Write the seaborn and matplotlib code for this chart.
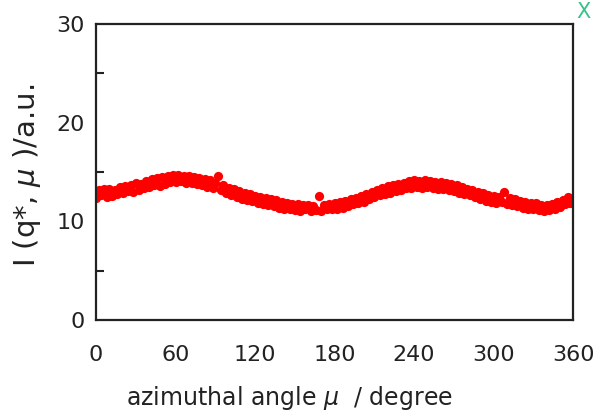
import numpy as np
import pandas as pd
import seaborn as sns
import matplotlib
matplotlib.use("Agg")
import matplotlib.pyplot as plt

angle_deg = list(range(0, 361, 2))
intensity = [
    12.4, 13.2, 12.7, 13.3, 12.5,
    13.3, 12.6, 13.2, 12.8, 13.5,
    12.9, 13.6, 13.1, 13.7, 13.0,
    13.9, 13.2, 13.8, 13.4, 14.1,
    13.5, 14.3, 13.7, 14.4, 13.6,
    14.5, 13.8, 14.6, 14.0, 14.7,
    14.0, 14.7, 14.1, 14.6, 13.9,
    14.6, 13.9, 14.5, 13.8, 14.4,
    13.7, 14.3, 13.5, 14.2, 13.4,
    13.9, 14.6, 13.2, 13.7, 12.9,
    13.4, 12.7, 13.3, 12.5, 13.1,
    12.3, 12.9, 12.2, 12.8, 12.1,
    12.6, 11.9, 12.5, 11.8, 12.4,
    11.7, 12.3, 11.6, 12.2, 11.4,
    12.0, 11.3, 11.9, 11.2, 11.8,
    11.1, 11.8, 11.0, 11.7, 11.2,
    11.7, 11.0, 11.6, 11.1, 12.6,
    11.0, 11.7, 11.2, 11.8, 11.3,
    11.9, 11.3, 12.0, 11.4, 12.1,
    11.6, 12.3, 11.8, 12.4, 11.9,
    12.6, 12.0, 12.8, 12.3, 13.0,
    12.5, 13.2, 12.7, 13.4, 12.8,
    13.6, 12.9, 13.7, 13.1, 13.8,
    13.2, 13.9, 13.4, 14.1, 13.4,
    14.2, 13.5, 14.1, 13.4, 14.2,
    13.5, 14.1, 13.4, 14.0, 13.3,
    14.0, 13.3, 13.9, 13.2, 13.8,
    13.1, 13.7, 12.9, 13.5, 12.8,
    13.3, 12.7, 13.2, 12.5, 13.0,
    12.3, 12.9, 12.1, 12.7, 12.0,
    12.6, 11.9, 12.5, 12.0, 13.0,
    11.8, 12.4, 11.7, 12.3, 11.6,
    12.1, 11.4, 12.0, 11.3, 11.9,
    11.3, 11.9, 11.1, 11.7, 11.0,
    11.7, 11.1, 11.8, 11.3, 12.0,
    11.5, 12.2, 11.8, 12.5, 11.9,
    12.4,
]
x_ticks = [0, 60, 120, 180, 240, 300, 360]
y_ticks = [0, 10, 20, 30]

df = pd.DataFrame({"angle": angle_deg, "I": intensity})

sns.set_theme(style="white")
plt.rcParams["font.family"] = ["DejaVu Sans"]
plt.rcParams["mathtext.fontset"] = "dejavusans"

fig = plt.figure(figsize=(5.97, 4.11), dpi=100)
ax = fig.add_axes([0.161, 0.2214, 0.799, 0.7202])
sns.scatterplot(data=df, x="angle", y="I", ax=ax, color="#ff0000",
                s=44, marker="o", linewidth=0, legend=False)

ax.set_xlim(0, 360)
ax.set_ylim(0, 30)
ax.set_xticks(x_ticks)
ax.set_yticks(y_ticks)
ax.set_yticks([5, 15, 25], minor=True)
ax.tick_params(axis="both", which="both", direction="in", labelsize=16,
               colors="#222222", width=1.5, top=False, right=False)
ax.tick_params(axis="x", which="major", length=7, pad=18)
ax.tick_params(axis="y", which="major", length=9, pad=8)
ax.tick_params(axis="y", which="minor", length=6, left=True)
for s in ax.spines.values():
    s.set_linewidth(1.6)
    s.set_color("#222222")

ax.set_xlabel(r"azimuthal angle $\mu$  / degree", fontsize=17, color="#222222")
ax.xaxis.set_label_coords(0.405, -0.215)
ax.set_ylabel(r"I (q*, $\mu$ )/a.u.", fontsize=21, color="#222222")
ax.yaxis.set_label_coords(-0.112, 0.49)

fig.text(0.978, 0.972, "X", color="#3cc08a", fontsize=15, ha="center", va="center")

fig.savefig("out.png", dpi=100)
